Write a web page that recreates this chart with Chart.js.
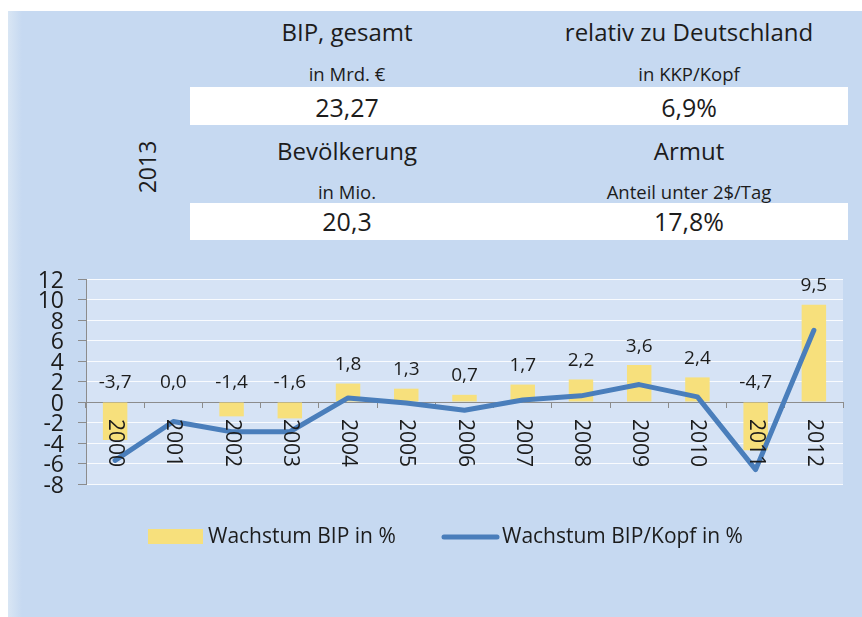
<!DOCTYPE html>
<html>
<head>
<meta charset="utf-8">
<script src="https://cdn.jsdelivr.net/npm/chart.js@4/dist/chart.umd.min.js"></script>
<style>
  html, body { margin: 0; padding: 0; background: #ffffff; }
  body { width: 862px; height: 617px; position: relative; overflow: hidden; font-family: 'Open Sans', sans-serif; color: #1c1c1c; }
  #panel { position: absolute; left: 8px; top: 11px; width: 854px; height: 606px;
           background: linear-gradient(to right, #d9e6f4 0px, #c6d9f1 14px, #c6d9f1 100%); }
  .band { position: absolute; left: 190px; width: 658px; background: #ffffff; }
  .t { position: absolute; white-space: nowrap; transform: translate(-50%, -50%); }
  .title { font-size: 24px; }
  .sub { font-size: 18.5px; }
  .val { font-size: 25px; }
  #year { position: absolute; left: 147px; top: 167px; font-size: 23px; transform: translate(-50%, -50%) rotate(-90deg); }
  #chartBox { position: absolute; left: 0; top: 250px; width: 862px; height: 367px; }
</style>
</head>
<body>
<div id="panel"></div>
<div class="band" style="top:87px;height:38px;"></div>
<div class="band" style="top:203px;height:37px;"></div>
<div id="header"></div>
<div id="chartBox"><canvas id="c"></canvas></div>
<script>
// ---- data ----
const headerYear = '2013';
const headerTitles = ['BIP, gesamt', 'relativ zu Deutschland', 'Bevölkerung', 'Armut'];
const headerUnits = ['in Mrd. €', 'in KKP/Kopf', 'in Mio.', 'Anteil unter 2$/Tag'];
const headerValues = ['23,27', '6,9%', '20,3', '17,8%'];

const years = ['2000','2001','2002','2003','2004','2005','2006','2007','2008','2009','2010','2011','2012'];
const growthBIP = [-3.7, 0.0, -1.4, -1.6, 1.8, 1.3, 0.7, 1.7, 2.2, 3.6, 2.4, -4.7, 9.5];
const growthBIPperHead = [-5.7, -1.9, -2.9, -2.9, 0.4, -0.1, -0.8, 0.2, 0.6, 1.7, 0.5, -6.6, 7.0];
const seriesNames = ['Wachstum BIP in %', 'Wachstum BIP/Kopf in %'];
const yMin = -8, yMax = 12, yStep = 2;

// ---- header (HTML text) ----
const colX = [347, 689];
const rowY = [[31, 73, 107], [150, 191, 221]];
const header = document.getElementById('header');
function addText(cls, txt, x, y) {
  const d = document.createElement('div');
  d.className = 't ' + cls;
  d.textContent = txt;
  d.style.left = x + 'px';
  d.style.top = y + 'px';
  header.appendChild(d);
}
for (let i = 0; i < 4; i++) {
  const col = i % 2, row = Math.floor(i / 2);
  addText('title', headerTitles[i], colX[col], rowY[row][0]);
  addText('sub', headerUnits[i], colX[col], rowY[row][1]);
  addText('val', headerValues[i], colX[col], rowY[row][2]);
}
const yr = document.createElement('div');
yr.id = 'year'; yr.textContent = headerYear;
document.body.appendChild(yr);

// ---- chart ----
const fmt = v => v.toFixed(1).replace('.', ',');
const TEXT = '#1c1c1c';

const plotBg = {
  id: 'plotBg',
  beforeDraw(chart) {
    const a = chart.chartArea, ctx = chart.ctx;
    ctx.save();
    ctx.fillStyle = 'rgba(255,255,255,0.28)';
    ctx.fillRect(a.left, a.top, a.right - a.left, a.bottom - a.top);
    ctx.restore();
  }
};

const labelsPlugin = {
  id: 'labelsPlugin',
  afterDatasetsDraw(chart) {
    const ctx = chart.ctx;
    const xs = chart.scales.x, ys = chart.scales.y;
    ctx.save();
    // data labels above bars
    ctx.font = '19px "Open Sans"';
    ctx.fillStyle = TEXT;
    ctx.textAlign = 'center';
    ctx.textBaseline = 'middle';
    const meta = chart.getDatasetMeta(0);
    meta.data.forEach((el, i) => {
      const v = chart.data.datasets[0].data[i];
      const y = ys.getPixelForValue(Math.max(v, 0));
      ctx.fillText(fmt(v), el.x, y - 19);
    });
    // rotated category labels (top to bottom)
    ctx.font = '21px "Open Sans"';
    ctx.textAlign = 'left';
    ctx.textBaseline = 'middle';
    chart.data.labels.forEach((lab, i) => {
      const x = xs.getPixelForValue(i);
      const y = ys.getPixelForValue(0) + 17;
      ctx.save();
      ctx.translate(x, y);
      ctx.rotate(Math.PI / 2);
      ctx.fillText(lab, 0, 0);
      ctx.restore();
    });
    ctx.restore();
  },
  afterDraw(chart) {
    // legend
    const ctx = chart.ctx;
    const ds = chart.data.datasets;
    const cy = 537 - 250;
    ctx.save();
    ctx.font = '21px "Open Sans"';
    ctx.textBaseline = 'middle';
    ctx.textAlign = 'left';
    ctx.fillStyle = ds[0].backgroundColor;
    ctx.fillRect(148, cy - 8, 55, 15);
    ctx.fillStyle = TEXT;
    ctx.fillText(ds[0].label, 208, cy);
    ctx.strokeStyle = ds[1].borderColor;
    ctx.lineWidth = 5;
    ctx.lineCap = 'round';
    ctx.beginPath();
    ctx.moveTo(444, cy);
    ctx.lineTo(497, cy);
    ctx.stroke();
    ctx.fillText(ds[1].label, 502, cy);
    ctx.restore();
  }
};

function build() {
  Chart.defaults.font.family = '"Open Sans", sans-serif';
  Chart.defaults.color = TEXT;
  new Chart(document.getElementById('c'), {
    data: {
      labels: years,
      datasets: [
        {
          type: 'bar',
          label: seriesNames[0],
          data: growthBIP,
          backgroundColor: '#f7e07c',
          borderWidth: 0,
          barPercentage: 0.42,
          categoryPercentage: 1.0,
          order: 2
        },
        {
          type: 'line',
          label: seriesNames[1],
          data: growthBIPperHead,
          borderColor: '#4a7ebb',
          backgroundColor: '#4a7ebb',
          borderWidth: 5,
          pointRadius: 0,
          tension: 0,
          borderJoinStyle: 'round',
          borderCapStyle: 'round',
          order: 1
        }
      ]
    },
    options: {
      responsive: true,
      maintainAspectRatio: false,
      animation: false,
      layout: { padding: { left: 0, right: 19, top: 29, bottom: 133 } },
      plugins: { legend: { display: false }, tooltip: { enabled: false } },
      scales: {
        x: {
          type: 'category',
          position: { y: 0 },
          offset: true,
          grid: { offset: true, drawOnChartArea: false, drawTicks: true, tickLength: 5, tickColor: '#8c8c8c' },
          border: { display: true, color: '#8c8c8c', width: 1 },
          ticks: { display: false }
        },
        y: {
          min: yMin, max: yMax,
          afterFit(scale) { scale.width = 86; },
          grid: { color: 'rgba(255,255,255,0.85)', lineWidth: 1, tickLength: 8, tickColor: '#8c8c8c' },
          border: { display: true, color: '#8c8c8c', width: 1 },
          ticks: { stepSize: yStep, autoSkip: false, padding: 14, font: { size: 23 }, color: TEXT, labelOffset: 2 }
        }
      }
    },
    plugins: [plotBg, labelsPlugin]
  });
}
if (document.fonts && document.fonts.load) {
  Promise.all([document.fonts.load('20px "Open Sans"')]).then(build, build);
} else { build(); }
</script>
</body>
</html>
